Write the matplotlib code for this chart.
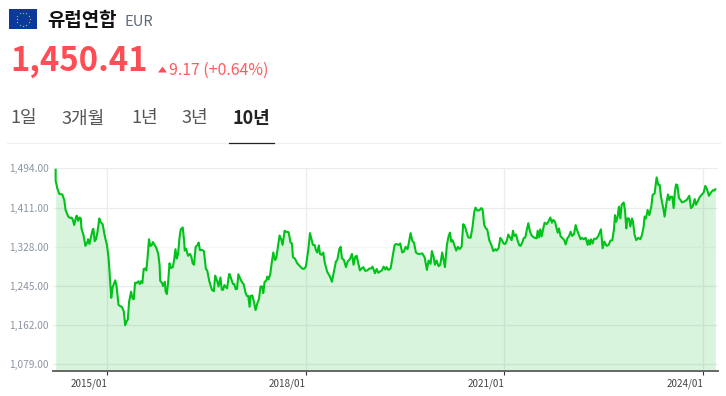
import matplotlib
matplotlib.use('Agg')
import matplotlib.pyplot as plt
from matplotlib.patches import Rectangle, Polygon
import math

plt.rcParams['font.family'] = ['Noto Sans CJK KR', 'DejaVu Sans']

years = [2014.22,2014.22,2014.245,2014.275,2014.32,2014.35,2014.37,2014.41,2014.44,2014.46,2014.48,2014.50,2014.53,2014.54,2014.56,2014.58,2014.60,2014.61,2014.64,2014.67,2014.70,2014.71,2014.73,2014.75,2014.78,2014.79,2014.81,2014.83,2014.85,2014.88,2014.90,2014.93,2014.95,2014.97,2014.995,2015.02,2015.04,2015.06,2015.08,2015.12,2015.14,2015.17,2015.20,2015.22,2015.25,2015.27,2015.29,2015.31,2015.33,2015.36,2015.38,2015.40,2015.42,2015.44,2015.47,2015.49,2015.51,2015.53,2015.55,2015.57,2015.59,2015.61,2015.63,2015.65,2015.67,2015.69,2015.72,2015.74,2015.77,2015.79,2015.80,2015.83,2015.84,2015.87,2015.88,2015.90,2015.92,2015.94,2015.96,2015.99,2016.01,2016.03,2016.05,2016.07,2016.09,2016.11,2016.14,2016.16,2016.17,2016.19,2016.22,2016.25,2016.27,2016.29,2016.31,2016.335,2016.365,2016.38,2016.40,2016.44,2016.46,2016.48,2016.49,2016.51,2016.54,2016.58,2016.61,2016.63,2016.66,2016.68,2016.71,2016.73,2016.75,2016.77,2016.81,2016.84,2016.85,2016.87,2016.90,2016.92,2016.94,2016.96,2016.98,2017.01,2017.04,2017.06,2017.09,2017.11,2017.13,
    2017.15,2017.165,2017.19,2017.215,2017.24,2017.266,2017.291,2017.316,2017.341,2017.356,2017.377,2017.402,2017.417,2017.437,2017.462,2017.487,2017.508,2017.533,2017.553,2017.583,2017.603,2017.628,2017.649,2017.679,2017.699,2017.739,2017.769,2017.79,2017.805,2017.835,2017.87,2017.91,2017.946,2017.971,2018.00,2018.036,2018.062,2018.082,2018.107,2018.132,2018.152,2018.172,2018.197,2018.213,2018.238,2018.263,2018.288,2018.323,2018.364,2018.394,2018.424,2018.454,2018.475,2018.505,2018.525,2018.545,2018.575,2018.606,2018.631,2018.666,2018.696,2018.721,2018.746,2018.767,2018.792,2018.817,2018.842,2018.867,2018.897,2018.928,2018.958,2018.983,2019.008,2019.044,2019.069,2019.094,2019.124,2019.149,2019.175,2019.2,2019.22,2019.245,2019.28,2019.31,2019.341,2019.366,2019.401,2019.426,2019.456,2019.482,2019.507,2019.537,2019.562,2019.582,2019.607,2019.633,2019.663,2019.693,2019.723,2019.758,2019.794,2019.829,2019.854,2019.884,2019.904,2019.93,2019.95,2019.975,2020.005,2020.03,2020.06,2020.101,2020.131,2020.156,2020.177,2020.197,2020.217,2020.247,2020.272,2020.297,2020.322,2020.353,2020.378,2020.403,2020.453,2020.489,2020.519,2020.544,2020.564,2020.589,2020.619,2020.65,2020.67,2020.695,2020.72,2020.74,
    2020.771,2020.802,2020.832,2020.862,2020.882,2020.912,2020.938,2020.963,2020.988,2021.013,2021.038,2021.058,2021.084,2021.109,2021.129,2021.149,2021.174,2021.2,2021.225,2021.245,2021.275,2021.29,2021.315,2021.34,2021.361,2021.386,2021.416,2021.456,2021.487,2021.502,2021.522,2021.542,2021.562,2021.587,2021.607,2021.638,2021.663,2021.693,2021.718,2021.738,2021.764,2021.784,2021.804,2021.824,2021.849,2021.879,2021.905,2021.925,2021.95,2021.975,2022.0,2022.025,2022.051,2022.076,2022.101,2022.126,2022.151,2022.171,2022.197,2022.227,2022.257,2022.272,2022.292,2022.307,2022.333,2022.353,2022.388,2022.418,2022.458,2022.484,2022.509,2022.544,2022.574,2022.6,2022.63,2022.655,2022.67,2022.69,2022.71,2022.73,2022.751,2022.771,2022.801,2022.821,2022.841,2022.856,2022.881,2022.902,2022.927,2022.942,2022.967,2022.992,2023.022,2023.053,2023.078,2023.103,2023.118,2023.138,2023.163,2023.189,2023.219,2023.239,2023.269,2023.299,2023.325,2023.345,2023.365,2023.395,2023.42,2023.446,2023.471,2023.491,2023.511,2023.536,2023.556,2023.576,2023.592,2023.612,2023.637,2023.662,2023.682,2023.717,2023.753,2023.793,2023.818,2023.843,2023.874,2023.894,2023.919,2023.954,2023.984,2024.01,2024.035,2024.06,2024.09,2024.12,2024.151,2024.171,2024.186]

rates = [1491,1468,1452,1440,1439,1427,1406,1392,1389,1390,1385,1374,1392,1394,1383,1390,1388,1367,1353,1330,1338,1344,1334,1346,1365,1366,1340,1344,1358,1388,1380,1376,1360,1346,1332,1304,1261,1220,1242,1257,1245,1205,1202,1201,1191,1162,1170,1174,1212,1233,1219,1217,1252,1251,1255,1249,1255,1251,1281,1282,1278,1307,1344,1330,1331,1338,1331,1326,1313,1290,1256,1251,1245,1254,1234,1228,1254,1293,1283,1285,1300,1323,1303,1313,1346,1365,1369,1342,1320,1324,1309,1313,1307,1293,1290,1328,1332,1337,1321,1321,1319,1293,1281,1278,1256,1237,1234,1267,1256,1244,1263,1237,1237,1247,1240,1270,1270,1261,1249,1249,1238,1239,1270,1260,1252,1249,1230,1224,1224,
    1201,1224,1225,1212,1194,1208,1217,1244,1244,1230,1254,1256,1265,1259,1270,1297,1316,1300,1304,1332,1352,1344,1332,1362,1360,1359,1337,1335,1306,1303,1293,1287,1282,1281,1286,1321,1357,1346,1332,1332,1321,1316,1331,1313,1311,1316,1293,1275,1265,1254,1275,1297,1300,1323,1328,1304,1300,1285,1297,1302,1313,1290,1307,1309,1293,1278,1282,1285,1277,1278,1282,1282,1286,1272,1281,1273,1276,1278,1286,1280,1285,1279,1282,1307,1332,1334,1332,1335,1316,1318,1328,1323,1341,1357,1341,1337,1316,1313,1313,1314,1306,1279,1299,1292,1319,1307,1290,1299,1287,1290,1316,1285,1332,1350,1358,1339,1342,1330,1320,1328,1323,1328,1376,1371,1348,1347,1371,1402,1411,1405,1405,1410,1407,1374,1367,1365,
    1342,1332,1319,1323,1320,1325,1347,1342,1335,1334,1342,1354,1348,1342,1362,1351,1354,1341,1331,1330,1339,1346,1348,1365,1378,1360,1351,1347,1346,1362,1348,1365,1350,1367,1379,1376,1381,1390,1379,1385,1381,1369,1358,1367,1350,1346,1342,1333,1346,1350,1360,1351,1355,1374,1362,1353,1344,1347,1344,1347,1332,1342,1333,1344,1335,1345,1345,1351,1365,1325,1339,1330,1332,1341,1342,1365,1395,1381,1392,1413,1388,1417,1422,1406,1367,1388,1388,1371,1388,1381,1353,1342,1347,1344,1353,1371,1392,1388,1406,1395,1413,1438,1441,1475,1459,1459,1434,1413,1392,1420,1439,1427,1434,1434,1410,1445,1460,1459,1431,1427,1422,1424,1427,1436,1410,1413,1429,1417,1424,1434,1439,1443,1457,1450,1436,1443,1448,1447,1450]

y_ticks = [1079, 1162, 1245, 1328, 1411, 1494]
y_labels = ['1,079.00', '1,162.00', '1,245.00', '1,328.00', '1,411.00', '1,494.00']
x_ticks = [2015, 2018, 2021, 2024]
x_labels = ['2015/01', '2018/01', '2021/01', '2024/01']
tabs = ['1일', '3개월', '1년', '3년', '10년']
tab_x = [10, 61, 131, 181, 233]

W, H = 726, 396
fig = plt.figure(figsize=(7.26, 3.96), dpi=100)

# page furniture, in pixel coordinates
page = fig.add_axes([0, 0, 1, 1])
page.set_xlim(0, W)
page.set_ylim(H, 0)
page.axis('off')

page.add_patch(Rectangle((9, 9), 28, 20, fc='#0b3a9c', ec='none'))
for i in range(12):
    a = i * math.pi / 6
    page.plot(23 + 6.5 * math.cos(a), 19 + 6.5 * math.sin(a), 'o', ms=0.9, color='#d9b93a', mew=0)

page.text(47, 20, '유럽연합', fontsize=13.6, fontweight='bold', color='#111111', va='center', ha='left')
page.text(124, 21.5, 'EUR', fontsize=10.6, color='#5f6b7a', va='center', ha='left')
page.text(10, 62, '1,450.41', fontsize=23.6, fontweight='bold', color='#ff4d55', va='center', ha='left')
page.add_patch(Polygon([(158, 72.5), (167, 72.5), (162.5, 66.7)], fc='#ff4d55', ec='none'))
page.text(169, 70.5, '9.17 (+0.64%)', fontsize=11.4, color='#ff5a60', va='center', ha='left')

for i in range(len(tabs)):
    bold = tabs[i] == '10년'
    page.text(tab_x[i], 118.5, tabs[i], fontsize=13, va='center', ha='left',
              fontweight='bold' if bold else 'normal', color='#222222' if bold else '#555555')
page.plot([7, 720], [142.5, 142.5], color='#f0f0f0', lw=0.9)
page.plot([229, 274], [142.5, 142.5], color='#222222', lw=0.9)

# chart
ax = fig.add_axes([53 / W, 1 - 370.7 / H, (717.7 - 53) / W, (370.7 - 168.4) / H])
ax.patch.set_alpha(0)
ax.set_xlim(2014.18, 2024.222)
ax.set_ylim(1065.7, 1494)
ax.fill_between(years, rates, 1065.7, color='#00b81e', alpha=0.15, lw=0, zorder=2)
ax.plot(years, rates, color='#00c31a', lw=1.5, solid_joinstyle='round', zorder=3)

ax.set_yticks(y_ticks)
ax.set_yticklabels(y_labels)
ax.set_xticks(x_ticks)
ax.set_xticklabels(x_labels, ha='right')
ax.grid(True, color='#ececef', lw=0.9, zorder=1)
ax.get_ygridlines()[3].set_color('#f6f6f6')
ax.set_axisbelow(True)
ax.tick_params(axis='y', length=0, pad=3, labelsize=7.3, labelcolor='#8b95a1')
ax.tick_params(axis='x', length=3, width=0.8, color='#333333', pad=2.5, labelsize=7.1, labelcolor='#444444')
for s in ['top', 'left', 'right']:
    ax.spines[s].set_visible(False)
ax.spines['bottom'].set_color('#666666')
ax.spines['bottom'].set_linewidth(1.4)

plt.savefig('out.png', dpi=100)
